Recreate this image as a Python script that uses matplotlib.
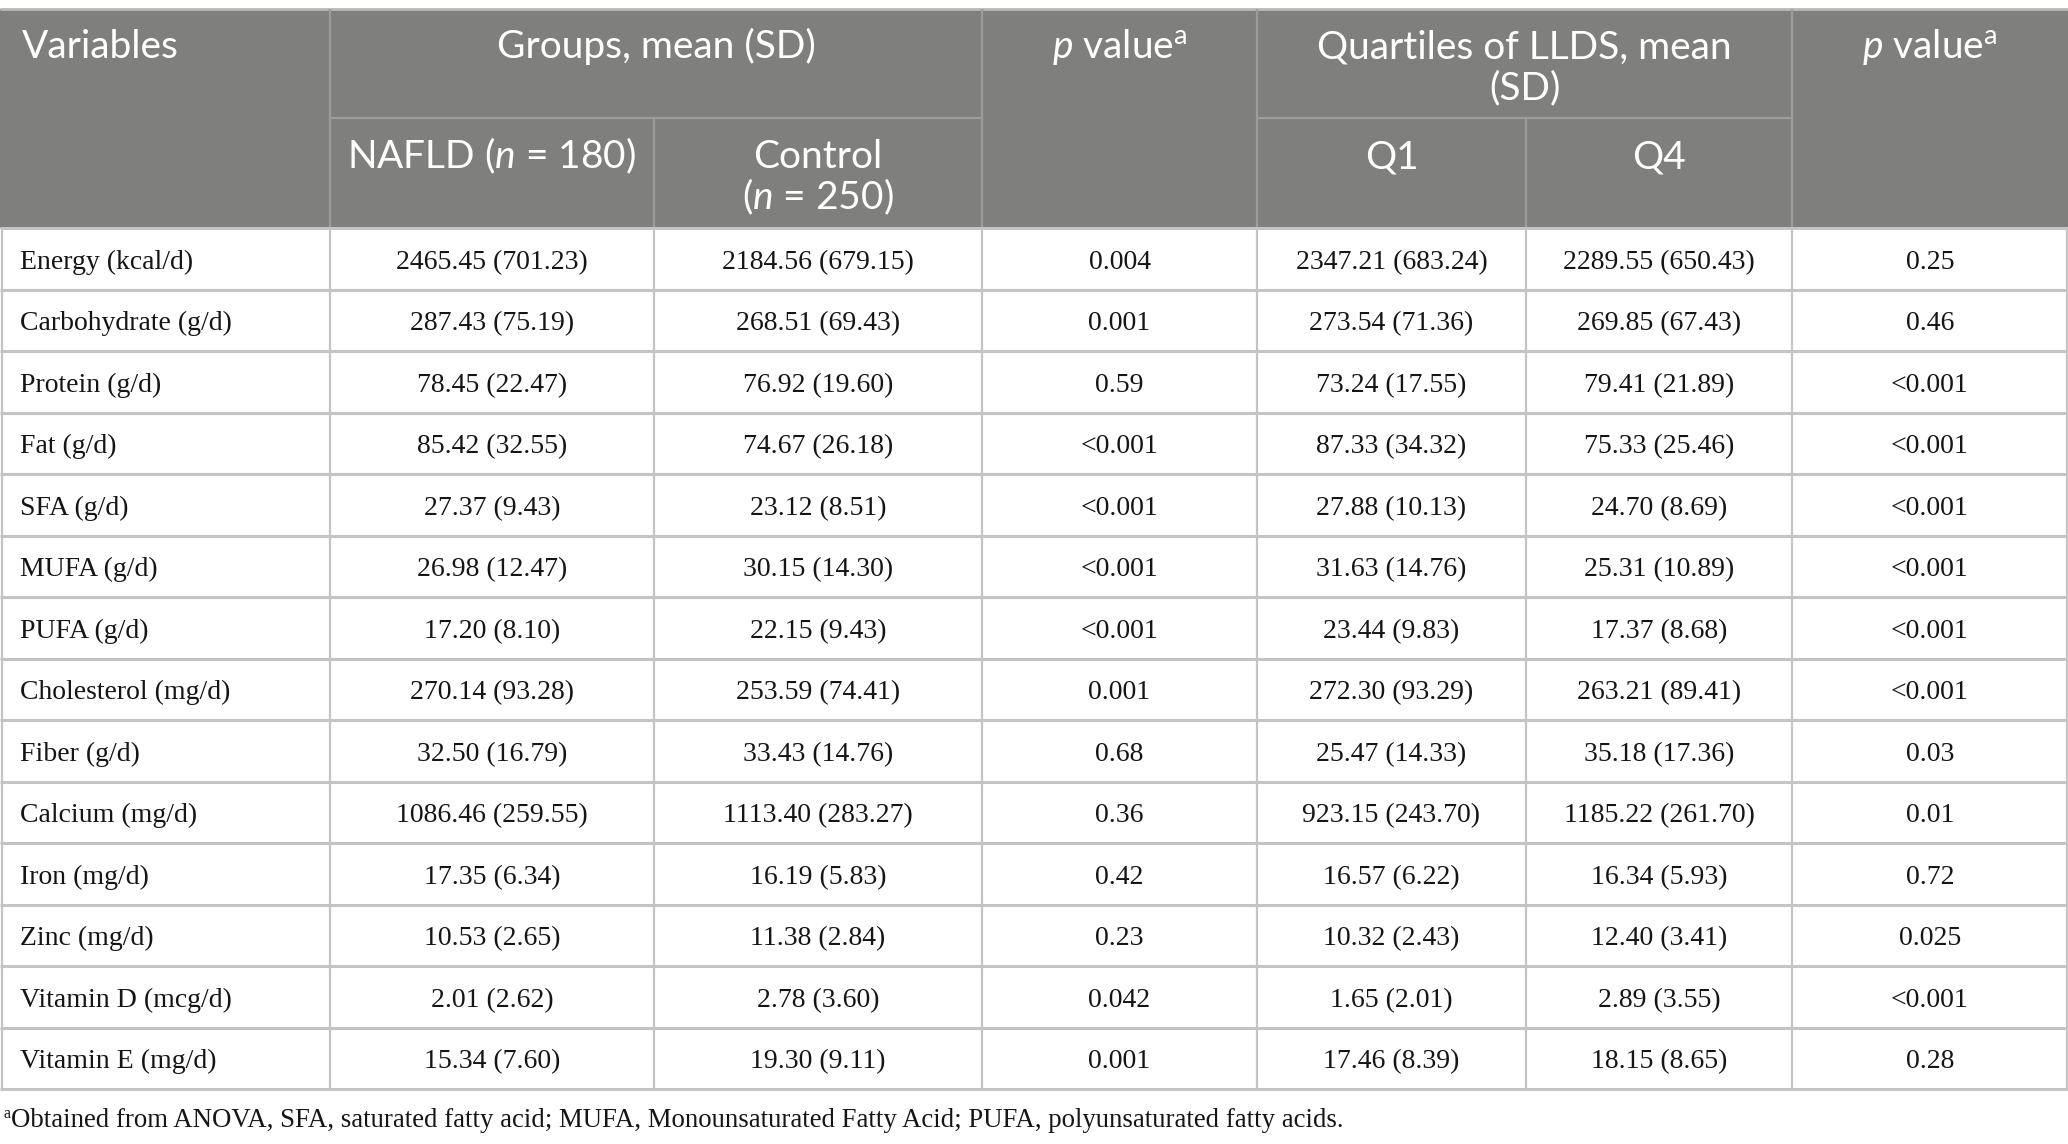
import matplotlib
matplotlib.use("Agg")
import matplotlib.pyplot as plt
from matplotlib.patches import Rectangle

plt.rcParams['mathtext.fontset'] = 'custom'
plt.rcParams['mathtext.rm'] = 'Lato'
plt.rcParams['mathtext.it'] = 'Lato:italic'

variables = ["Energy (kcal/d)", "Carbohydrate (g/d)", "Protein (g/d)", "Fat (g/d)",
             "SFA (g/d)", "MUFA (g/d)", "PUFA (g/d)", "Cholesterol (mg/d)", "Fiber (g/d)",
             "Calcium (mg/d)", "Iron (mg/d)", "Zinc (mg/d)", "Vitamin D (mcg/d)", "Vitamin E (mg/d)"]
nafld_mean = [2465.45, 287.43, 78.45, 85.42, 27.37, 26.98, 17.20, 270.14, 32.50, 1086.46, 17.35, 10.53, 2.01, 15.34]
nafld_sd = [701.23, 75.19, 22.47, 32.55, 9.43, 12.47, 8.10, 93.28, 16.79, 259.55, 6.34, 2.65, 2.62, 7.60]
control_mean = [2184.56, 268.51, 76.92, 74.67, 23.12, 30.15, 22.15, 253.59, 33.43, 1113.40, 16.19, 11.38, 2.78, 19.30]
control_sd = [679.15, 69.43, 19.60, 26.18, 8.51, 14.30, 9.43, 74.41, 14.76, 283.27, 5.83, 2.84, 3.60, 9.11]
p_groups = ["0.004", "0.001", "0.59", "<0.001", "<0.001", "<0.001", "<0.001", "0.001", "0.68",
            "0.36", "0.42", "0.23", "0.042", "0.001"]
q1_mean = [2347.21, 273.54, 73.24, 87.33, 27.88, 31.63, 23.44, 272.30, 25.47, 923.15, 16.57, 10.32, 1.65, 17.46]
q1_sd = [683.24, 71.36, 17.55, 34.32, 10.13, 14.76, 9.83, 93.29, 14.33, 243.70, 6.22, 2.43, 2.01, 8.39]
q4_mean = [2289.55, 269.85, 79.41, 75.33, 24.70, 25.31, 17.37, 263.21, 35.18, 1185.22, 16.34, 12.40, 2.89, 18.15]
q4_sd = [650.43, 67.43, 21.89, 25.46, 8.69, 10.89, 8.68, 89.41, 17.36, 261.70, 5.93, 3.41, 3.55, 8.65]
p_quartiles = ["0.25", "0.46", "<0.001", "<0.001", "<0.001", "<0.001", "<0.001", "<0.001", "0.03",
               "0.01", "0.72", "0.025", "<0.001", "0.28"]

footnote = "Obtained from ANOVA, SFA, saturated fatty acid; MUFA, Monounsaturated Fatty Acid; PUFA, polyunsaturated fatty acids."

W, H = 2068, 1144
fig = plt.figure(figsize=(W / 100, H / 100), dpi=100)
ax = fig.add_axes([0, 0, 1, 1])
ax.set_xlim(0, W)
ax.set_ylim(H, 0)
ax.axis('off')

# layout
cols = [0, 330, 654, 982, 1257, 1526, 1792, 2068]
head_top, head_mid, head_bot = 9, 118, 228
tab_bot = 1089
nrows = len(variables)
rh = (tab_bot - head_bot) / nrows

HEAD_BG = '#7f807e'
HEAD_LINE = '#9c9d9b'
GRID = '#c4c4c4'
TXT = '#151515'
hfont = dict(family='Lato', fontsize=28, color='white')
bfont = dict(family='Liberation Serif', fontsize=20, color=TXT)

# header background
ax.add_patch(Rectangle((0, head_top), W, head_bot - head_top, facecolor=HEAD_BG, edgecolor='none'))
ax.plot([0, W], [head_top - 0.5, head_top - 0.5], color='#b9b9b9', lw=2, solid_capstyle='butt')
for x in [330, 982, 1257, 1792]:
    ax.plot([x, x], [head_top, head_bot], color=HEAD_LINE, lw=1.6, solid_capstyle='butt')
for x in [654, 1526]:
    ax.plot([x, x], [head_mid, head_bot], color=HEAD_LINE, lw=1.6, solid_capstyle='butt')
ax.plot([330, 982], [head_mid, head_mid], color=HEAD_LINE, lw=1.6, solid_capstyle='butt')
ax.plot([1257, 1792], [head_mid, head_mid], color=HEAD_LINE, lw=1.6, solid_capstyle='butt')

# body grid
for i in range(nrows + 1):
    y = head_bot + i * rh
    ax.plot([0, W], [y, y], color=GRID, lw=2.2, solid_capstyle='butt')
for x in [1.5] + cols[1:-1] + [W - 1.5]:
    ax.plot([x, x], [head_bot, tab_bot], color=GRID, lw=1.6, solid_capstyle='butt')

def cx(i):
    return (cols[i] + cols[i + 1]) / 2

def hlines(x, y0, text, ha='center'):
    for k, line in enumerate(text.split('\n')):
        ax.text(x, y0 + k * 41, line, ha=ha, va='baseline', **hfont)

# header text
hlines(22, 58, "Variables", ha='left')
ax.text((cols[1] + cols[3]) / 2, 58, "Groups, mean (SD)", ha='center', va='baseline', **hfont)
ax.text(cx(3), 58, r"$p$ value$^{\mathrm{a}}$", ha='center', va='baseline', **hfont)
hlines((cols[4] + cols[6]) / 2, 58, "Quartiles of LLDS, mean\n(SD)")
ax.text(cx(6), 58, r"$p$ value$^{\mathrm{a}}$", ha='center', va='baseline', **hfont)
ax.text(cx(1), 168, r"NAFLD ($n$ = 180)", ha='center', va='baseline', **hfont)
ax.text(cx(2), 168, "Control", ha='center', va='baseline', **hfont)
ax.text(cx(2), 209, r"($n$ = 250)", ha='center', va='baseline', **hfont)
ax.text(cx(4), 168, "Q1", ha='center', va='baseline', **hfont)
ax.text(cx(5), 168, "Q4", ha='center', va='baseline', **hfont)

def ms(m, s):
    return f"{m:.2f} ({s:.2f})"

for i in range(nrows):
    yb = head_bot + (i + 0.5) * rh + 10
    ax.text(20, yb, variables[i], ha='left', va='baseline', **bfont)
    ax.text(cx(1), yb, ms(nafld_mean[i], nafld_sd[i]), ha='center', va='baseline', **bfont)
    ax.text(cx(2), yb, ms(control_mean[i], control_sd[i]), ha='center', va='baseline', **bfont)
    ax.text(cx(3), yb, p_groups[i], ha='center', va='baseline', **bfont)
    ax.text(cx(4), yb, ms(q1_mean[i], q1_sd[i]), ha='center', va='baseline', **bfont)
    ax.text(cx(5), yb, ms(q4_mean[i], q4_sd[i]), ha='center', va='baseline', **bfont)
    ax.text(cx(6), yb, p_quartiles[i], ha='center', va='baseline', **bfont)

# footnote
ax.text(3, 1118, "a", ha='left', va='baseline', family='Liberation Serif', fontsize=11.5, color=TXT)
ax.text(11, 1127, footnote, ha='left', va='baseline', family='Liberation Serif', fontsize=19.3, color=TXT)

fig.savefig("out.png", dpi=100, facecolor='white')
